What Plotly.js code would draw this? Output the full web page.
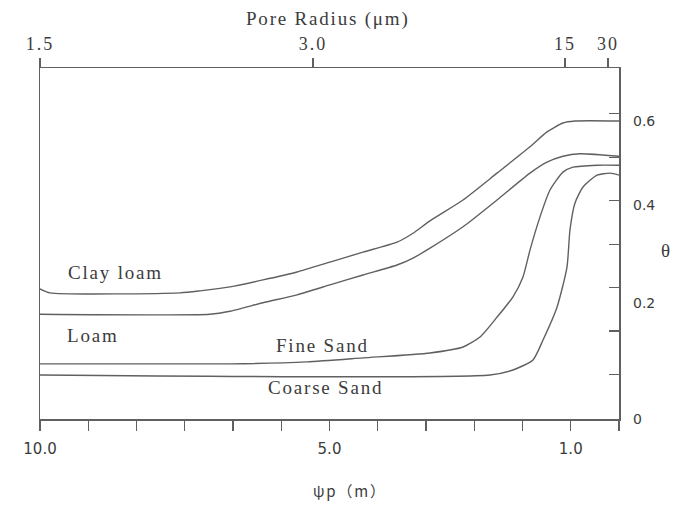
<!DOCTYPE html>
<html>
<head>
<meta charset="utf-8">
<script src="https://cdn.plot.ly/plotly-3.0.1.min.js"></script>
<style>
html,body{margin:0;padding:0;background:#fff;}
#chart{width:675px;height:505px;}
.annotation-text{letter-spacing:1.8px;}
.x2tick text{letter-spacing:2px;}
</style>
</head>
<body>
<div id="chart"></div>
<script>
// x positions are in bottom-axis tick units (0 = ψp 10.0, 6 = 5.0, 11 = 1.0)
const clayLoamX = [0, 0.207, 2.902, 3.316, 3.938, 4.622, 5.326, 6.010, 6.694, 7.399, 7.731, 8.083, 8.767, 9.472, 10.155, 10.508, 10.839, 11.088, 12.0];
const clayLoamY = [0.262, 0.254, 0.254, 0.258, 0.266, 0.280, 0.296, 0.316, 0.336, 0.356, 0.374, 0.399, 0.441, 0.495, 0.548, 0.578, 0.596, 0.600, 0.600];
const loamX = [0, 3.523, 3.938, 4.622, 5.326, 6.010, 6.694, 7.399, 7.731, 8.083, 8.767, 9.472, 10.155, 10.508, 10.839, 11.192, 12.0];
const loamY = [0.211, 0.211, 0.217, 0.234, 0.250, 0.270, 0.290, 0.310, 0.324, 0.344, 0.387, 0.441, 0.495, 0.517, 0.529, 0.534, 0.529];
const fineSandX = [0, 3.316, 3.938, 5.534, 6.694, 8.083, 8.767, 9.119, 9.472, 9.803, 10.010, 10.155, 10.363, 10.570, 10.839, 11.047, 11.544, 12.0];
const fineSandY = [0.111, 0.111, 0.111, 0.115, 0.123, 0.133, 0.145, 0.165, 0.205, 0.246, 0.286, 0.340, 0.407, 0.461, 0.497, 0.507, 0.511, 0.511];
const coarseSandX = [0, 9.326, 9.803, 10.218, 10.425, 10.715, 10.922, 10.984, 11.088, 11.254, 11.544, 11.813, 12.0];
const coarseSandY = [0.0886, 0.0886, 0.0987, 0.119, 0.159, 0.225, 0.306, 0.381, 0.435, 0.467, 0.491, 0.495, 0.491];

const bottomTickVals = [0,1,2,3,4,5,6,7,8,9,10,11,12];
const bottomTickText = ["10.0","","","","","","5.0","","","","","1.0",""];
const topTickVals = [0, 5.66, 10.88, 11.77];
const topTickText = ["1.5","3.0","15","30"];
const thetaMarkVals = [0.002, 0.0896, 0.177, 0.265, 0.352, 0.440, 0.527, 0.615];
const thetaLabelVals = [0, 0.2335, 0.431, 0.600];
const thetaLabelText = ["0","0.2","0.4","0.6"];

const curveLabels = [
  {text:"Clay loam", x:1.57, y:0.295},
  {text:"Loam", x:1.1, y:0.169},
  {text:"Fine Sand", x:5.85, y:0.147},
  {text:"Coarse Sand", x:5.91, y:0.064}
];

const lineColor = "#606060";
const serif = "Liberation Serif, serif";
const sans = "DejaVu Sans, Liberation Sans, sans-serif";
const txtColor = "#3c3c3c";

function tr(x, y, name){
  return {x:x, y:y, name:name, type:"scatter", mode:"lines",
    line:{color:lineColor, width:1.4, shape:"spline", smoothing:0.6},
    xaxis:"x", yaxis:"y", hoverinfo:"skip"};
}
const data = [
  tr(clayLoamX, clayLoamY, "Clay loam"),
  tr(loamX, loamY, "Loam"),
  tr(fineSandX, fineSandY, "Fine Sand"),
  tr(coarseSandX, coarseSandY, "Coarse Sand"),
  {x:[0], y:[0], xaxis:"x2", yaxis:"y2", mode:"markers", marker:{opacity:0}, hoverinfo:"skip", showlegend:false}
];

const annots = curveLabels.map(c => ({text:c.text, x:c.x, y:c.y, xref:"x", yref:"y",
    showarrow:false, xanchor:"center", yanchor:"middle",
    font:{size:19, family:serif, color:txtColor}}));
annots.push({text:"Pore Radius (μm)", x:328, y:505-19, xref:"paper", yref:"paper", showarrow:false,
  xanchor:"center", yanchor:"middle", font:{size:19, family:serif, color:txtColor}});
annots.push({text:"ψp（m）", x:350, y:505-490, xref:"paper", yref:"paper", showarrow:false,
  xanchor:"center", yanchor:"middle", font:{size:15, family:"Noto Sans CJK JP, DejaVu Sans, sans-serif", color:txtColor}});
annots.push({text:"θ", x:666, y:505-250, xref:"paper", yref:"paper", showarrow:false,
  xanchor:"center", yanchor:"middle", font:{size:19, family:serif, color:txtColor}});
// convert pixel positions of titles into paper fractions
annots.forEach(a => { if (a.xref === "paper") { a.x = (a.x - 40) / 579; a.y = (a.y - 86) / 351; } });

const layout = {
  width:675, height:505,
  margin:{l:40, r:56, t:68, b:86},
  paper_bgcolor:"#fff", plot_bgcolor:"#fff",
  showlegend:false,
  font:{family:serif, color:txtColor, size:15},
  xaxis:{
    range:[0,12], side:"bottom", tickmode:"array", tickvals:bottomTickVals, ticktext:bottomTickText,
    ticks:"outside", ticklen:10, tickwidth:1.3, tickcolor:lineColor,
    showline:true, linecolor:lineColor, linewidth:1.5, ticklabelstandoff:5,
    showgrid:false, zeroline:false, tickfont:{size:15, family:sans, color:txtColor}
  },
  xaxis2:{
    range:[0,12], overlaying:"x", side:"top", tickmode:"array", tickvals:topTickVals, ticktext:topTickText,
    ticks:"outside", ticklen:9, tickwidth:1.3, tickcolor:lineColor,
    showline:true, linecolor:lineColor, linewidth:1.5,
    showgrid:false, zeroline:false, tickfont:{size:18, family:serif, color:txtColor}
  },
  yaxis:{
    range:[0,0.7067], side:"right", tickmode:"array", tickvals:thetaMarkVals,
    showticklabels:false, ticks:"inside", ticklen:10, tickwidth:1.3, tickcolor:lineColor,
    showline:true, mirror:true, linecolor:lineColor, linewidth:1.5,
    showgrid:false, zeroline:false
  },
  yaxis2:{
    range:[0,0.7067], overlaying:"y", side:"right", tickmode:"array", tickvals:thetaLabelVals, ticktext:thetaLabelText,
    ticks:"", showline:false, showgrid:false, zeroline:false, ticklabelstandoff:13,
    tickfont:{size:14, family:sans, color:txtColor}
  },
  annotations: annots
};

Plotly.newPlot("chart", data, layout, {displayModeBar:false, staticPlot:true});
</script>
</body>
</html>
